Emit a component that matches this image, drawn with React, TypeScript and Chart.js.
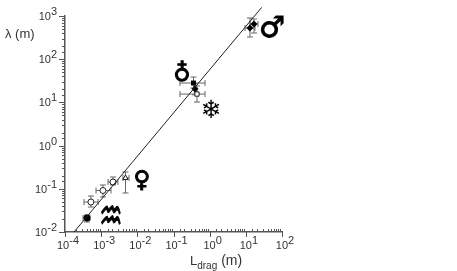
import React, { useEffect, useRef } from "react";
import { Chart, registerables } from "chart.js";

Chart.register(...registerables);

const fitX = [1.78e-4, 27.5];
const fitY = [0.01, 1585];

const solidX = [4.06e-4, 0.357, 0.393, 13.0, 16.8];
const solidY = [0.0211, 28.1, 20.4, 527, 653];
const solidXLow = [3.15e-4, 0.151, 0.393, 9.5, 13.0];
const solidXHigh = [4.9e-4, 0.743, 0.393, 17.9, 21.7];
const solidYLow = [0.017, 21.5, 15.0, 326, 404];
const solidYHigh = [0.0248, 38.7, 27.0, 899, 853];
const solidStyle = ["circle", "rect", "rectRot", "rectRot", "rectRot"];

const openX = [5.2e-4, 1.12e-3, 2.12e-3, 4.7e-3, 0.446];
const openY = [0.0494, 0.0914, 0.1436, 0.178, 15.6];
const openXLow = [3.35e-4, 7.2e-4, 1.55e-3, 4.0e-3, 0.151];
const openXHigh = [8.2e-4, 1.87e-3, 2.9e-3, 5.9e-3, 0.743];
const openYLow = [0.0379, 0.0646, 0.1225, 0.08, 10.2];
const openYHigh = [0.0681, 0.1225, 0.1875, 0.245, 24];
const openStyle = ["circle", "circle", "circle", "triangle", "rect"];

const xDecades = [-4, -3, -2, -1, 0, 1, 2];
const yDecades = [-2, -1, 0, 1, 2, 3];

const glyphs = ["\u2642", "\u2641", "\u2744", "\u2640", "\u2652"];
const glyphX = [52.8, 0.171, 1.08, 0.01346, 1.87e-3];
const glyphY = [480, 44, 6.3, 0.152, 0.0195];
const glyphSize = [29, 24, 25, 23, 26];
const glyphStretch = [1, 1, 1, 1, 1.7];
const glyphWeight = [1, 1, 0, 1, 0.6];

const ink = "#555555";
const text = "#333333";

const decor = {
  id: "decor",
  afterDraw(chart: any) {
    const { ctx, scales } = chart;
    const x = scales.x;
    const y = scales.y;
    const area = chart.chartArea;
    ctx.save();
    ctx.strokeStyle = ink;
    ctx.lineWidth = 1;
    ctx.beginPath();
    x.ticks.forEach((t: any) => {
      const px = Math.round(x.getPixelForValue(t.value)) + 0.5;
      const major = Math.abs(Math.log10(t.value) % 1) < 1e-6;
      ctx.moveTo(px, area.bottom);
      ctx.lineTo(px, area.bottom + (major ? 5 : -3));
    });
    y.ticks.forEach((t: any) => {
      const py = Math.round(y.getPixelForValue(t.value)) + 0.5;
      const major = Math.abs(Math.log10(t.value) % 1) < 1e-6;
      ctx.moveTo(area.left, py);
      ctx.lineTo(area.left - (major ? 6 : 3), py);
    });
    ctx.stroke();

    const power = (e: number, right: number | null, cx: number | null, base: number) => {
      ctx.font = "11px 'Liberation Sans'";
      const w1 = ctx.measureText("10").width;
      const w2 = ctx.measureText(String(e)).width;
      const left = right !== null ? right - w1 - w2 : (cx as number) - (w1 + w2) / 2 + 3;
      ctx.fillStyle = text;
      ctx.textAlign = "left";
      ctx.textBaseline = "alphabetic";
      ctx.fillText("10", left, base);
      ctx.fillText(String(e), left + w1, base - 5);
    };
    xDecades.forEach((e) => power(e, null, x.getPixelForValue(Math.pow(10, e)), 249));
    yDecades.forEach((e) => power(e, 57, null, y.getPixelForValue(Math.pow(10, e)) + 4));

    ctx.fillStyle = text;
    ctx.font = "13px 'Liberation Sans'";
    ctx.fillText("\u03bb (m)", 5, 38);
    ctx.font = "13px 'Liberation Sans'";
    ctx.fillText("L", 190, 265);
    const lw = ctx.measureText("L").width;
    ctx.font = "10px 'Liberation Sans'";
    ctx.fillText("drag", 190 + lw, 269);
    const dw = ctx.measureText("drag").width;
    ctx.font = "14px 'Liberation Sans'";
    ctx.fillText(" (m)", 190 + lw + dw, 265);

    ctx.fillStyle = "#000000";
    ctx.strokeStyle = "#000000";
    ctx.textAlign = "center";
    ctx.textBaseline = "middle";
    glyphs.forEach((g, i) => {
      ctx.save();
      ctx.font = glyphSize[i] + "px 'DejaVu Sans'";
      ctx.translate(x.getPixelForValue(glyphX[i]), y.getPixelForValue(glyphY[i]));
      ctx.scale(1, glyphStretch[i]);
      ctx.fillText(g, 0, 0);
      if (glyphWeight[i] > 0) {
        ctx.lineWidth = glyphWeight[i];
        ctx.strokeText(g, 0, 0);
      }
      ctx.restore();
    });
    ctx.restore();
  },
  beforeDatasetsDraw(chart: any) {
    const { ctx, scales } = chart;
    const x = scales.x;
    const y = scales.y;
    const bars = (xs: number[], ys: number[], xl: number[], xh: number[], yl: number[], yh: number[]) => {
      xs.forEach((v, i) => {
        const px = x.getPixelForValue(v);
        const py = y.getPixelForValue(ys[i]);
        const a = x.getPixelForValue(xl[i]);
        const b = x.getPixelForValue(xh[i]);
        const c = y.getPixelForValue(yl[i]);
        const d = y.getPixelForValue(yh[i]);
        ctx.moveTo(a, py);
        ctx.lineTo(b, py);
        ctx.moveTo(a, py - 3);
        ctx.lineTo(a, py + 3);
        ctx.moveTo(b, py - 3);
        ctx.lineTo(b, py + 3);
        ctx.moveTo(px, c);
        ctx.lineTo(px, d);
        ctx.moveTo(px - 3, c);
        ctx.lineTo(px + 3, c);
        ctx.moveTo(px - 3, d);
        ctx.lineTo(px + 3, d);
      });
    };
    ctx.save();
    ctx.strokeStyle = "#666666";
    ctx.lineWidth = 1;
    ctx.beginPath();
    bars(solidX, solidY, solidXLow, solidXHigh, solidYLow, solidYHigh);
    bars(openX, openY, openXLow, openXHigh, openYLow, openYHigh);
    ctx.stroke();
    ctx.restore();
  },
};

export default function App() {
  const ref = useRef<HTMLCanvasElement>(null);
  useEffect(() => {
    const chart = new Chart(ref.current as HTMLCanvasElement, {
      type: "scatter",
      data: {
        datasets: [
          {
            type: "line",
            data: fitX.map((v, i) => ({ x: v, y: fitY[i] })),
            borderColor: "#222222",
            borderWidth: 1,
            pointRadius: 0,
            clip: false,
          },
          {
            data: openX.map((v, i) => ({ x: v, y: openY[i] })),
            pointStyle: openStyle,
            pointRadius: 3,
            backgroundColor: "#ffffff",
            borderColor: "#222222",
            borderWidth: 1,
          },
          {
            data: solidX.map((v, i) => ({ x: v, y: solidY[i] })),
            pointStyle: solidStyle,
            pointRadius: 3.5,
            backgroundColor: "#000000",
            borderColor: "#000000",
            borderWidth: 0,
          },
        ],
      } as any,
      options: {
        animation: false,
        responsive: false,
        layout: { padding: { left: 65, top: 16, right: 175, bottom: 39 } },
        plugins: { legend: { display: false }, tooltip: { enabled: false } },
        scales: {
          x: {
            type: "logarithmic",
            min: 1e-4,
            max: 100,
            grid: { display: false },
            border: { display: true, color: ink, width: 1.5 },
            ticks: { display: false },
            afterFit: (s: any) => {
              s.height = 0;
            },
          },
          y: {
            type: "logarithmic",
            min: 0.01,
            max: 1000,
            grid: { display: false },
            border: { display: true, color: ink, width: 1.5 },
            ticks: { display: false },
            afterFit: (s: any) => {
              s.width = 0;
            },
          },
        },
      },
      plugins: [decor],
    } as any);
    return () => chart.destroy();
  }, []);
  return (
    <canvas
      ref={ref}
      width={457}
      height={271}
      style={{ position: "absolute", left: 0, top: 0, width: 457, height: 271 }}
    />
  );
}
